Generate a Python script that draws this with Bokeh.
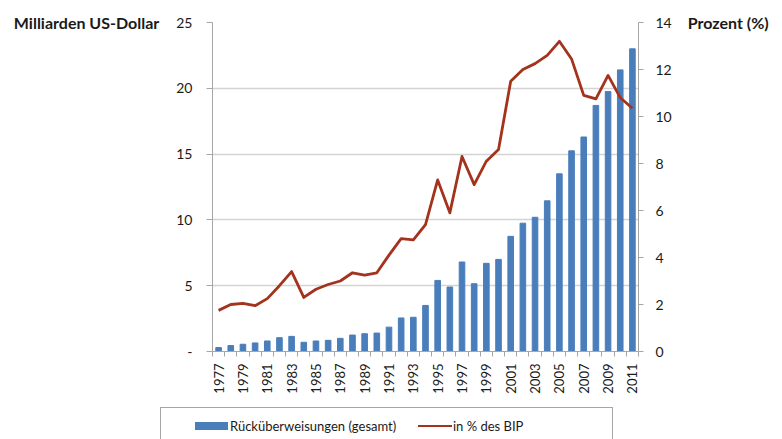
import math
from bokeh.plotting import figure
from bokeh.layouts import column
from bokeh.models import (Range1d, LinearAxis, FixedTicker, Div)
from bokeh.embed import file_html
from bokeh.resources import INLINE

years = list(range(1977, 2012))
remittances = [0.3, 0.45, 0.55, 0.65, 0.8, 1.05, 1.15, 0.7, 0.8, 0.85,
               1.0, 1.25, 1.35, 1.4, 1.85, 2.55, 2.6, 3.5, 5.4, 4.9,
               6.8, 5.15, 6.7, 7.0, 8.75, 9.75, 10.2, 11.45, 13.5, 15.25,
               16.3, 18.7, 19.75, 21.4, 23.0]
pct_gdp = [1.75, 2.0, 2.05, 1.95, 2.25, 2.8, 3.4, 2.3, 2.65, 2.85,
           3.0, 3.35, 3.25, 3.35, 4.1, 4.8, 4.75, 5.4, 7.3, 5.9,
           8.3, 7.1, 8.1, 8.6, 11.5, 12.0, 12.25, 12.6, 13.2, 12.45,
           10.9, 10.75, 11.75, 10.8, 10.35]
left_ticks = [0, 5, 10, 15, 20, 25]
right_ticks = [0, 2, 4, 6, 8, 10, 12, 14]
label_years = years[::2]
left_title = "Milliarden US-Dollar"
right_title = "Prozent (%)"
series_names = ["Rücküberweisungen (gesamt)", "in % des BIP"]

FONT = "Lato"
TXT = "#1a1a1a"
AX = "#a6a6a6"
BAR_C = "#4A7EBB"
LINE_C = "#A3331C"

p = figure(width=782, height=407, frame_width=426, frame_height=329,
           output_backend="svg", toolbar_location=None,
           x_range=Range1d(years[0] - 0.5, years[-1] + 0.5),
           y_range=Range1d(0, 25),
           min_border_left=212, min_border_right=144,
           min_border_top=22, min_border_bottom=56)
p.extra_y_ranges = {"pct": Range1d(0, 14)}
p.outline_line_color = None
p.background_fill_color = "white"
p.border_fill_color = "white"

p.vbar(x=years, top=remittances, width=0.46, color=BAR_C)
p.line(x=years, y=pct_gdp, y_range_name="pct", line_color=LINE_C,
       line_width=2.8, line_join="round")

# x axis
xa = p.xaxis[0]
xa.ticker = FixedTicker(ticks=label_years,
                        minor_ticks=[y - 0.5 for y in years] + [years[-1] + 0.5])
xa.major_tick_line_color = None
xa.minor_tick_line_color = AX
xa.minor_tick_out = 5
xa.minor_tick_in = 0
xa.axis_line_color = AX
xa.major_label_orientation = math.pi / 2
xa.major_label_text_font = FONT
xa.major_label_text_font_size = "13px"
xa.major_label_text_color = TXT
xa.major_label_standoff = 6

# left axis
ya = p.yaxis[0]
ya.ticker = FixedTicker(ticks=left_ticks)
ya.major_label_overrides = {0: "-"}
ya.axis_line_color = AX
ya.major_tick_line_color = AX
ya.major_tick_out = 6
ya.major_tick_in = 0
ya.minor_tick_line_color = None
ya.major_label_text_font = FONT
ya.major_label_text_font_size = "14px"
ya.major_label_text_color = TXT
ya.major_label_standoff = 14

# right axis
ra = LinearAxis(y_range_name="pct", ticker=FixedTicker(ticks=right_ticks))
ra.axis_line_color = AX
ra.major_tick_line_color = AX
ra.major_tick_out = 5
ra.major_tick_in = 0
ra.minor_tick_line_color = None
ra.major_label_text_font = FONT
ra.major_label_text_font_size = "14px"
ra.major_label_text_color = TXT
ra.major_label_standoff = 12
p.add_layout(ra, "right")

for ax, title, so in ((ya, left_title, 14), (ra, right_title, 13)):
    ax.axis_label = title
    ax.axis_label_text_font = FONT
    ax.axis_label_text_font_style = "bold"
    ax.axis_label_text_font_size = "16px"
    ax.axis_label_text_color = TXT
    ax.axis_label_standoff = so
    ax.axis_label_orientation = "horizontal"
    ax.axis_label_align = "end"

p.xgrid.grid_line_color = None
p.ygrid.ticker = FixedTicker(ticks=left_ticks[1:])
p.ygrid.grid_line_color = "#d4d4d4"
p.ygrid.grid_line_width = 1.5

# legend strip (HTML), cut off at the bottom like the original
legend_html = f"""
<div style="position:relative;width:782px;height:32px;overflow:hidden;
            font-family:Lato,sans-serif;font-size:13px;color:{TXT};background:white">
  <div style="position:absolute;left:160px;top:0px;width:453px;height:44px;
              border:1px solid {AX};box-sizing:border-box"></div>
  <div style="position:absolute;left:195px;top:15px;width:33px;height:8px;background:{BAR_C}"></div>
  <div style="position:absolute;left:230px;top:9px;line-height:20px;white-space:nowrap">{series_names[0]}</div>
  <div style="position:absolute;left:418px;top:18px;width:34px;height:2px;background:{LINE_C}"></div>
  <div style="position:absolute;left:453px;top:9px;line-height:20px;white-space:nowrap">{series_names[1]}</div>
</div>
"""
legend_div = Div(text=legend_html, width=782, height=32, margin=0)

open("out.html", "w").write(file_html(column(p, legend_div, spacing=0), INLINE))
